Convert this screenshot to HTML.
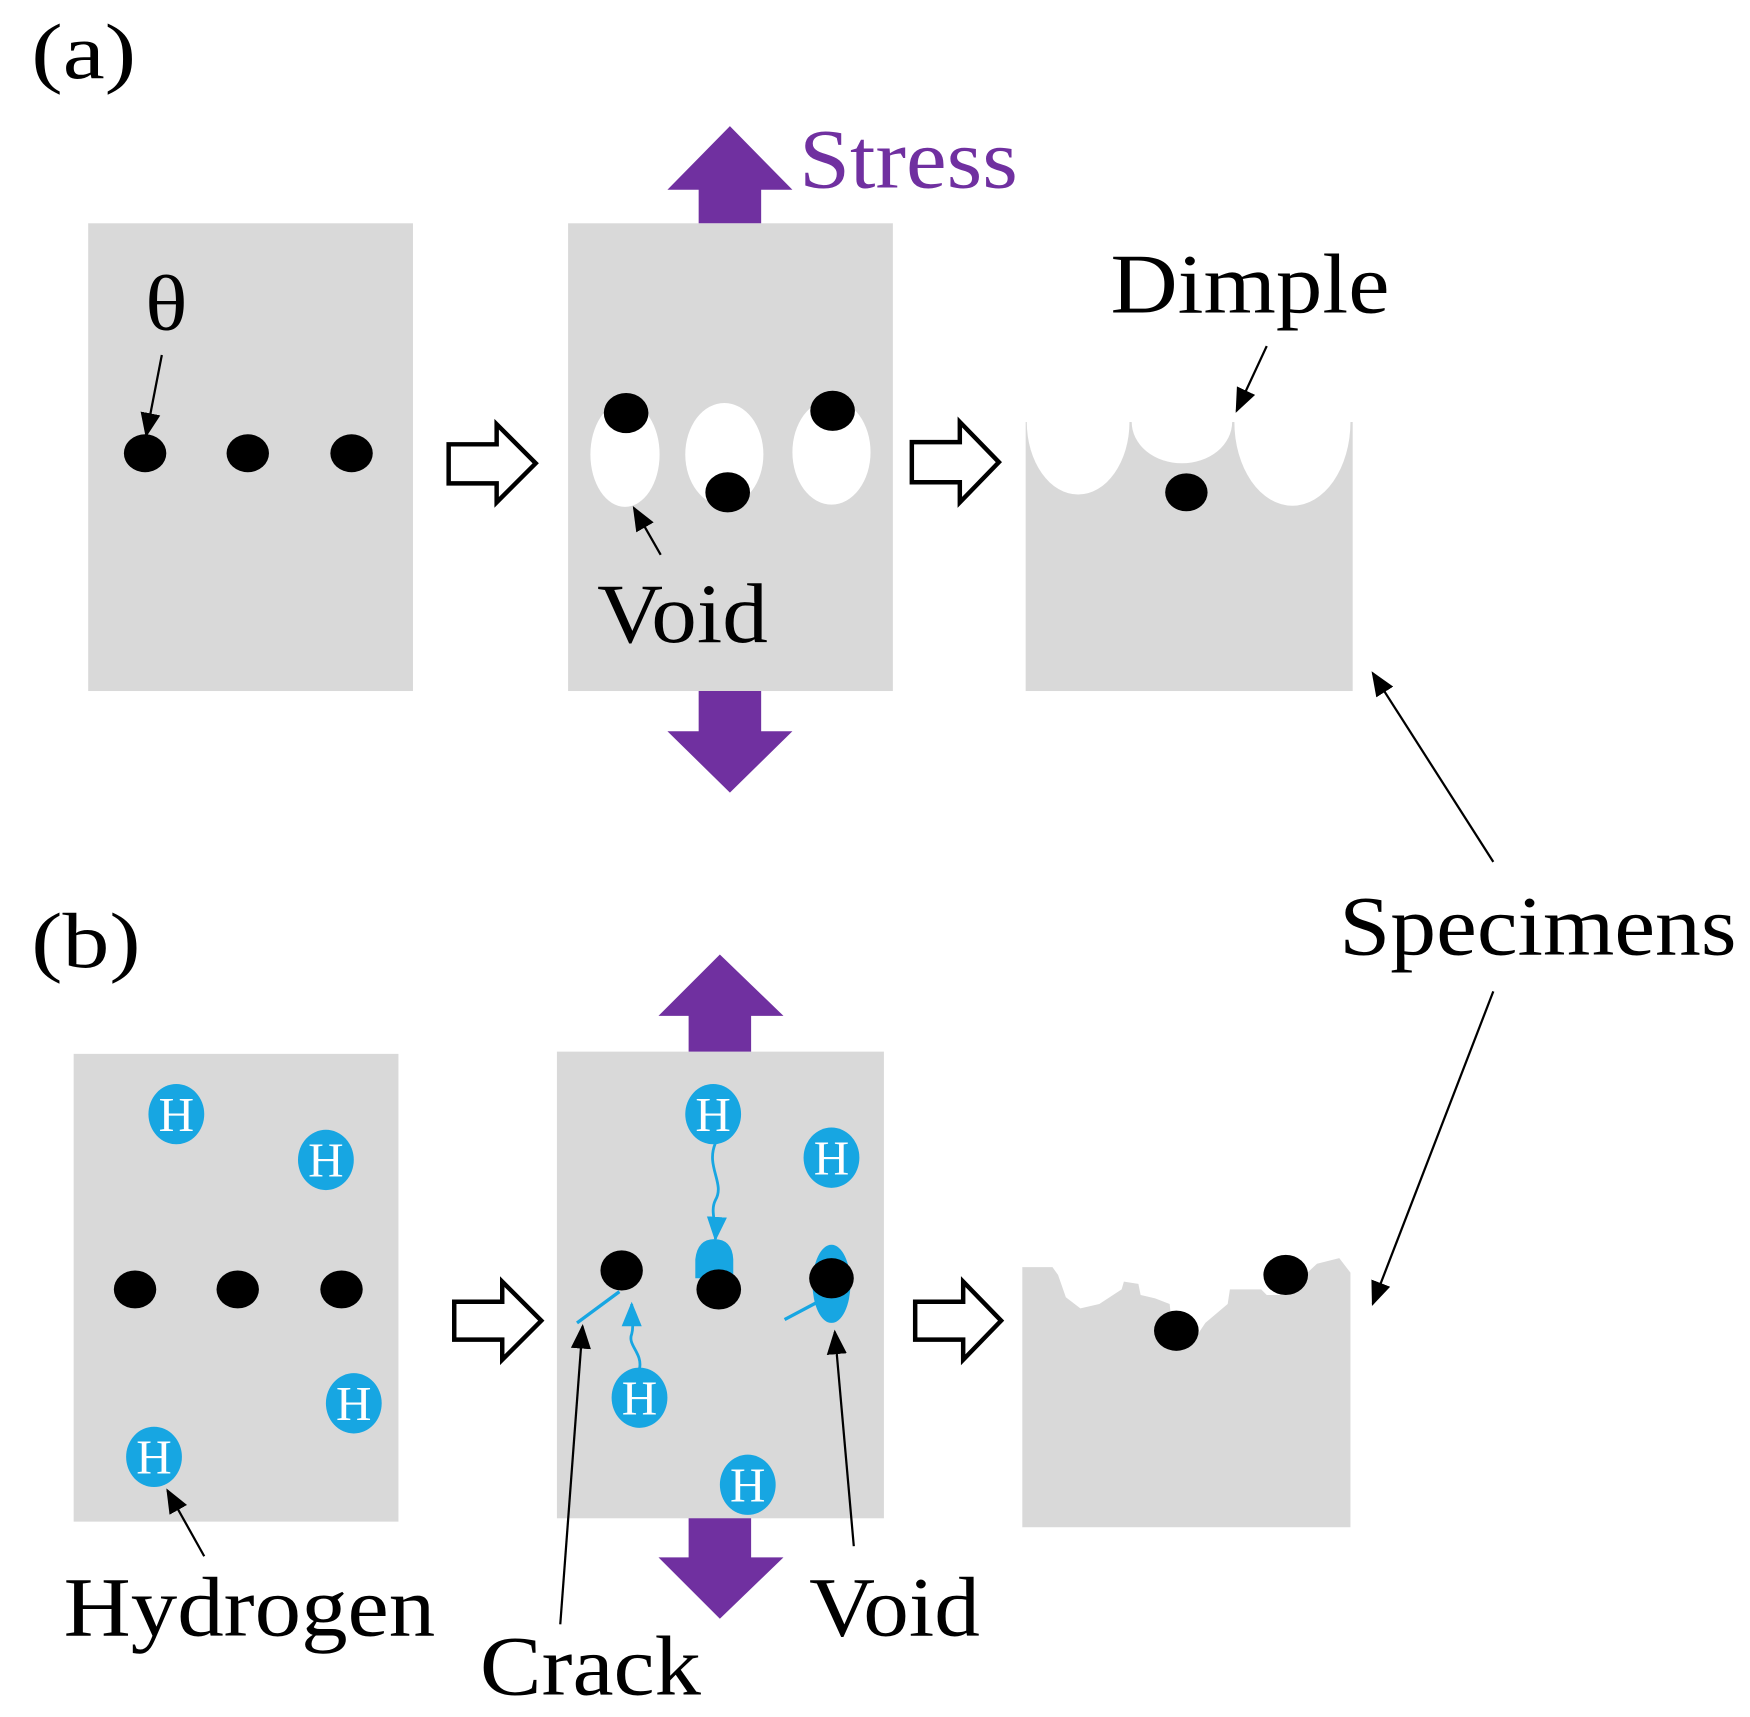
<!DOCTYPE html>
<html><head><meta charset="utf-8"><style>
html,body{margin:0;padding:0;background:#fff;}
svg{display:block;}
text{font-family:"Liberation Serif",serif;}
</style></head><body>
<svg width="1750" height="1717" viewBox="0 0 1568 1538" preserveAspectRatio="none" xmlns="http://www.w3.org/2000/svg">
<defs>
<marker id="ahb" markerWidth="22" markerHeight="22" refX="20" refY="11" orient="auto" markerUnits="userSpaceOnUse">
<path d="M0,2 L22,11 L0,20 Z" fill="#000"/></marker>
<marker id="ahc" markerWidth="22" markerHeight="22" refX="20" refY="11" orient="auto" markerUnits="userSpaceOnUse">
<path d="M0,2 L22,11 L0,20 Z" fill="#17a6e2"/></marker>
</defs>
<!-- (a) -->
<text x="28" y="70" font-size="70" textLength="94" lengthAdjust="spacingAndGlyphs">(a)</text>
<rect x="79" y="200" width="291" height="419" fill="#d9d9d9"/>
<ellipse cx="130" cy="406" rx="19" ry="17"/><ellipse cx="222" cy="406" rx="19" ry="17"/><ellipse cx="315" cy="406" rx="19" ry="17"/>
<text x="130" y="295" font-size="70" textLength="38" lengthAdjust="spacingAndGlyphs">θ</text>
<line x1="145" y1="318" x2="131" y2="390" stroke="#000" stroke-width="2" marker-end="url(#ahb)"/>
<path d="M402,398 L445,398 L445,380 L480,415 L445,450 L445,433 L402,433 Z" fill="#fff" stroke="#000" stroke-width="4"/>
<rect x="509" y="200" width="291" height="419" fill="#d9d9d9"/>
<path d="M626,200 L626,170 L598,170 L654,113 L710,170 L682,170 L682,200 Z" fill="#7030a0"/>
<path d="M626,619 L626,655 L598,655 L654,710 L710,655 L682,655 L682,619 Z" fill="#7030a0"/>
<text x="716" y="168" font-size="76" fill="#7030a0" textLength="196" lengthAdjust="spacingAndGlyphs">Stress</text>
<ellipse cx="560" cy="407" rx="31" ry="47" fill="#fff"/><ellipse cx="649" cy="407" rx="35" ry="46" fill="#fff"/><ellipse cx="745" cy="405" rx="35" ry="47" fill="#fff"/>
<ellipse cx="561" cy="370" rx="20" ry="18"/><ellipse cx="652" cy="441" rx="20" ry="18"/><ellipse cx="746" cy="368" rx="20" ry="18"/>
<line x1="592" y1="497" x2="568" y2="455" stroke="#000" stroke-width="2" marker-end="url(#ahb)"/>
<text x="535" y="575" font-size="76" textLength="153" lengthAdjust="spacingAndGlyphs">Void</text>
<path d="M817,396 L860,396 L860,378 L895,414 L860,450 L860,432 L817,432 Z" fill="#fff" stroke="#000" stroke-width="4"/>
<rect x="919" y="378" width="293" height="241" fill="#d9d9d9"/>
<ellipse cx="966" cy="378" rx="46" ry="65" fill="#fff"/>
<ellipse cx="1059" cy="378" rx="45" ry="37" fill="#fff"/>
<ellipse cx="1158" cy="378" rx="52" ry="75" fill="#fff"/>
<ellipse cx="1063" cy="441" rx="19" ry="17"/>
<text x="995" y="280" font-size="76" textLength="250" lengthAdjust="spacingAndGlyphs">Dimple</text>
<line x1="1135" y1="310" x2="1108" y2="368" stroke="#000" stroke-width="2" marker-end="url(#ahb)"/>
<text x="1200" y="855" font-size="76" textLength="356" lengthAdjust="spacingAndGlyphs">Specimens</text>
<line x1="1338" y1="772" x2="1230" y2="603" stroke="#000" stroke-width="2" marker-end="url(#ahb)"/>
<line x1="1338" y1="888" x2="1230" y2="1168" stroke="#000" stroke-width="2" marker-end="url(#ahb)"/>
<!-- (b) -->
<text x="28" y="866" font-size="70" textLength="98" lengthAdjust="spacingAndGlyphs">(b)</text>
<rect x="66" y="944" width="291" height="419" fill="#d9d9d9"/>
<ellipse cx="121" cy="1155" rx="19" ry="17"/><ellipse cx="213" cy="1155" rx="19" ry="17"/><ellipse cx="306" cy="1155" rx="19" ry="17"/>
<g fill="#17a6e2">
<ellipse cx="158" cy="998" rx="25" ry="27"/><ellipse cx="292" cy="1039" rx="25" ry="27"/><ellipse cx="317" cy="1257" rx="25" ry="27"/><ellipse cx="138" cy="1305" rx="25" ry="27"/>
</g>
<g fill="#fff" font-size="44" text-anchor="middle">
<text x="158" y="1013">H</text><text x="292" y="1054">H</text><text x="317" y="1272">H</text><text x="138" y="1320">H</text>
</g>
<line x1="183" y1="1394" x2="150" y2="1335" stroke="#000" stroke-width="2" marker-end="url(#ahb)"/>
<text x="57" y="1465" font-size="76" textLength="333" lengthAdjust="spacingAndGlyphs">Hydrogen</text>
<path d="M407,1166 L450,1166 L450,1148 L485,1183 L450,1218 L450,1200 L407,1200 Z" fill="#fff" stroke="#000" stroke-width="4"/>
<rect x="499" y="942" width="293" height="418" fill="#d9d9d9"/>
<path d="M617,942 L617,910 L590,910 L645,855 L702,910 L673,910 L673,942 Z" fill="#7030a0"/>
<path d="M617,1360 L617,1395 L590,1395 L645,1450 L702,1395 L673,1395 L673,1360 Z" fill="#7030a0"/>
<g fill="#17a6e2">
<ellipse cx="639" cy="998" rx="25" ry="27"/><ellipse cx="745" cy="1037" rx="25" ry="27"/><ellipse cx="573" cy="1252" rx="25" ry="27"/><ellipse cx="670" cy="1330" rx="25" ry="27"/>
<path d="M623,1145 L623,1128 Q625,1110 640,1110 Q656,1110 657,1128 L657,1145 Z"/>
<ellipse cx="745" cy="1150" rx="17" ry="35"/>
</g>
<g fill="#fff" font-size="44" text-anchor="middle">
<text x="639" y="1013">H</text><text x="745" y="1052">H</text><text x="573" y="1267">H</text><text x="670" y="1345">H</text>
</g>
<path d="M641,1024 C632,1045 650,1060 641,1075 C636,1085 642,1095 641,1110" fill="none" stroke="#17a6e2" stroke-width="2.5" marker-end="url(#ahc)"/>
<path d="M573,1226 C576,1212 562,1205 566,1195 C568,1188 566,1180 566,1168" fill="none" stroke="#17a6e2" stroke-width="2.5" marker-end="url(#ahc)"/>
<line x1="517" y1="1185" x2="555" y2="1157" stroke="#17a6e2" stroke-width="3"/>
<line x1="703" y1="1182" x2="735" y2="1165" stroke="#17a6e2" stroke-width="3"/>
<ellipse cx="557" cy="1138" rx="19" ry="18"/><ellipse cx="644" cy="1155" rx="20" ry="18"/><ellipse cx="745" cy="1145" rx="20" ry="18"/>
<line x1="502" y1="1455" x2="522" y2="1188" stroke="#000" stroke-width="2" marker-end="url(#ahb)"/>
<line x1="765" y1="1385" x2="748" y2="1193" stroke="#000" stroke-width="2" marker-end="url(#ahb)"/>
<text x="430" y="1518" font-size="76" textLength="198" lengthAdjust="spacingAndGlyphs">Crack</text>
<text x="725" y="1465" font-size="76" textLength="153" lengthAdjust="spacingAndGlyphs">Void</text>
<path d="M820,1166 L863,1166 L863,1148 L897,1183 L863,1218 L863,1200 L820,1200 Z" fill="#fff" stroke="#000" stroke-width="4"/>
<path d="M916,1135 L943,1135 L948,1142 L955,1162 L968,1172 L985,1168 L1005,1155 L1007,1148 L1020,1150 L1022,1160 L1035,1163 L1048,1168 L1052,1205 L1060,1208 L1070,1200 L1080,1185 L1100,1168 L1102,1155 L1130,1155 L1135,1160 L1150,1160 L1180,1132 L1200,1127 L1210,1140 L1210,1368 L916,1368 Z" fill="#d9d9d9"/>
<ellipse cx="1054" cy="1192" rx="20" ry="18"/><ellipse cx="1152" cy="1142" rx="20" ry="18"/>
</svg>
</body></html>
